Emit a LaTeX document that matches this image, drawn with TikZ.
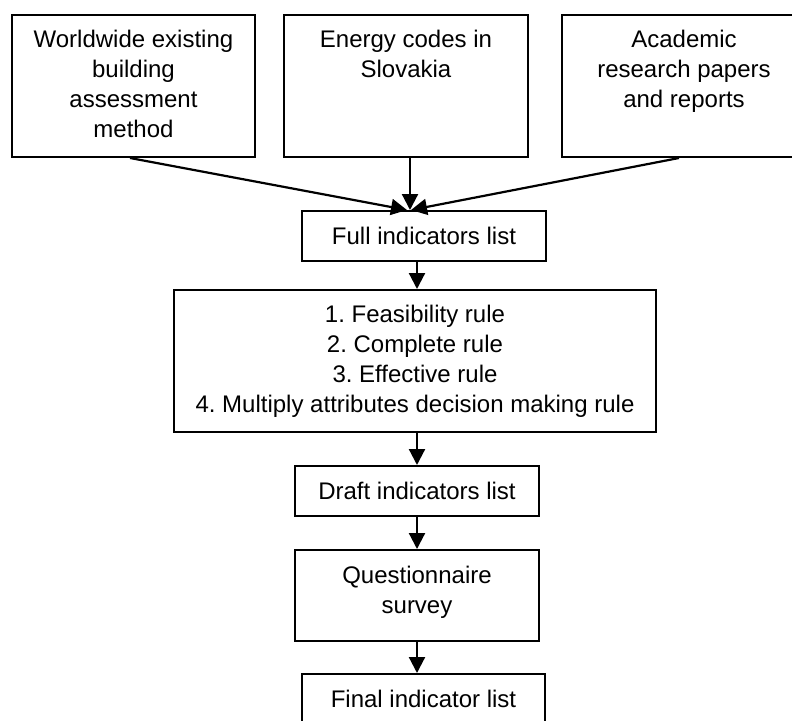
\documentclass[tikz,border=0pt]{standalone}
\usepackage{fontspec}
\setmainfont{Liberation Sans}
\usetikzlibrary{arrows.meta,calc}
\begin{document}
\frenchspacing
\begin{tikzpicture}[x=1pt,y=-1pt,
  box/.style={draw=black,line width=2pt,rectangle,inner sep=0pt,font=\fontsize{24}{30}\selectfont,align=center},
  txt/.style={font=\fontsize{24}{30}\selectfont,align=center,inner sep=0pt,anchor=north},
  arr/.style={draw=black,line width=2.2pt,-{Triangle[length=16pt,width=16pt]}}]
\useasboundingbox (0,0) rectangle (792,720);
\clip (0,0) rectangle (792,720);
% source boxes
\node[box,minimum width=243pt,minimum height=142pt] (src1) at (133.5,86) {};
\node[box,minimum width=244pt,minimum height=142pt] (src2) at (406,86) {};
\node[box,minimum width=244pt,minimum height=142pt] (src3) at (684,86) {};
\node[txt] (t1) at ($(src1.north)+(0,15.5)$) {Worldwide existing\\building\\assessment\\method};
\node[txt] (t2) at ($(src2.north)+(0,15.5)$) {Energy codes in\\Slovakia};
\node[txt] (t3) at ($(src3.north)+(0,15.5)$) {Academic\\research papers\\and reports};
% flow boxes
\node[box,minimum width=244pt,minimum height=50pt] (full) at (424,236) {Full indicators list};
\node[box,minimum width=482pt,minimum height=142pt] (rules) at (415,361) {1. Feasibility rule\\2. Complete rule\\3. Effective rule\\4. Multiply attributes decision making rule};
\node[box,minimum width=244pt,minimum height=50pt] (draft) at (417,491) {Draft indicators list};
\node[box,minimum width=244pt,minimum height=91pt] (quest) at (417,595.5) {};
\node[txt,anchor=center] (tq) at (417,592) {Questionnaire\\survey};
\node[box,minimum width=243pt,minimum height=50pt] (final) at (423.5,699) {Final indicator list};
% helper coordinates
\coordinate (c1) at (130,0);
\coordinate (c2) at (410,0);
\coordinate (c3) at (679,0);
\coordinate (tipl) at (407,0);
\coordinate (tipr) at (411,0);
\coordinate (v) at (417,0);
% connectors
\draw[arr] (src1.south -| c1) -- (full.north -| tipl);
\draw[arr] (src2.south -| c2) -- (full.north -| c2);
\draw[arr] (src3.south -| c3) -- (full.north -| tipr);
\draw[arr] (full.south -| v) -- (rules.north -| v);
\draw[arr] (rules.south -| v) -- (draft.north -| v);
\draw[arr] (draft.south -| v) -- (quest.north -| v);
\draw[arr] (quest.south -| v) -- (final.north -| v);
\end{tikzpicture}
\end{document}
